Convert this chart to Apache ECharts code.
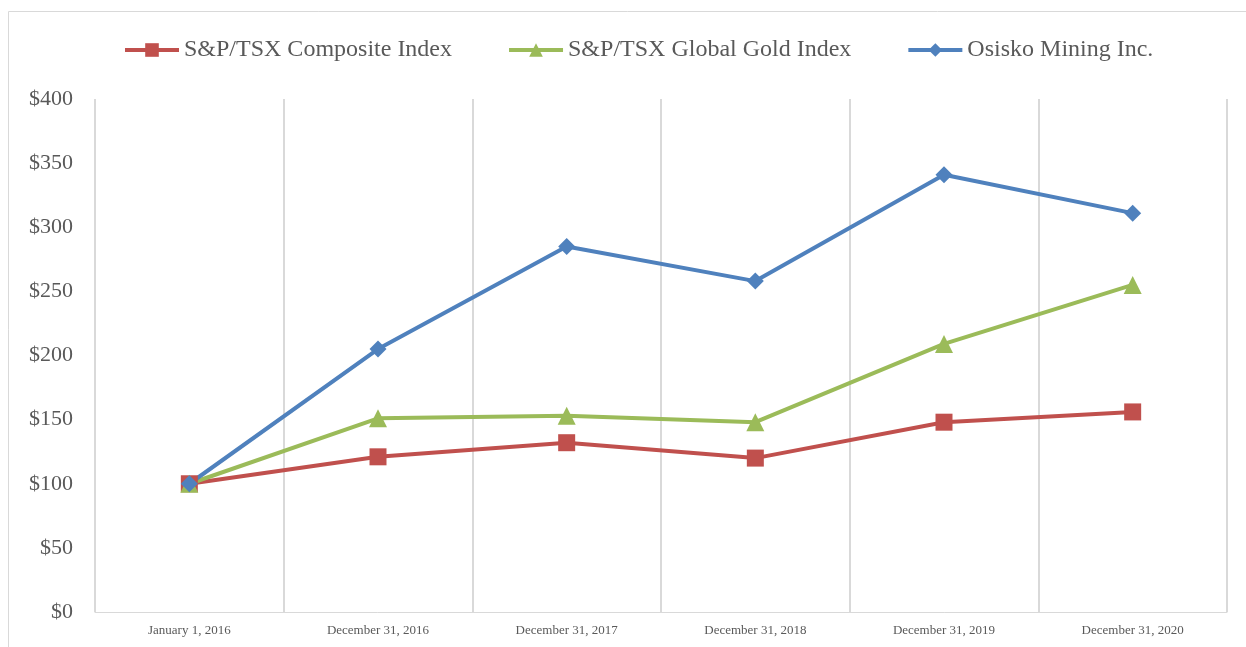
<!DOCTYPE html>
<html>
<head>
<meta charset="utf-8">
<title>Cumulative return</title>
<script src="https://cdn.jsdelivr.net/npm/echarts@6/dist/echarts.min.js"></script>
<style>
  html, body { margin: 0; padding: 0; background: #fff; }
  #chart { width: 1246px; height: 647px; }
</style>
</head>
<body>
<div id="chart"></div>
<script>
// data
const categories = ['January 1, 2016', 'December 31, 2016', 'December 31, 2017',
  'December 31, 2018', 'December 31, 2019', 'December 31, 2020'];
const compositeIndex = [100, 121, 132, 120, 148, 156];
const goldIndex = [100, 151, 153, 148, 209, 255];
const osiskoMining = [100, 205, 285, 258, 341, 311];
const yTicks = [0, 50, 100, 150, 200, 250, 300, 350, 400];

const serif = '"Liberation Serif", "Times New Roman", serif';

let myChart = echarts.init(document.getElementById('chart'));

myChart.setOption({
  animation: false,
  graphic: [
    {
      // outer chart border
      type: 'rect',
      shape: { x: 8.5, y: 11.5, width: 1400, height: 800 },
      style: { fill: 'none', stroke: '#d9d9d9', lineWidth: 1 },
      silent: true
    }
  ],
  legend: {
    top: 33,
    left: 118,
    itemWidth: 54,
    itemHeight: 17,
    itemGap: 55,
    lineStyle: { width: 4 },
    textStyle: { fontFamily: serif, fontSize: 24, color: '#595959' },
    data: ['S&P/TSX Composite Index', 'S&P/TSX Global Gold Index', 'Osisko Mining Inc.']
  },
  grid: { left: 95, right: 19, top: 99, bottom: 35, containLabel: false },
  xAxis: {
    type: 'category',
    data: categories,
    boundaryGap: true,
    axisLine: { lineStyle: { color: '#d9d9d9', width: 1 } },
    axisTick: { show: false },
    splitLine: { show: true, lineStyle: { color: '#d9d9d9', width: 2 } },
    axisLabel: {
      interval: 0,
      margin: 12,
      fontFamily: serif,
      fontSize: 13,
      color: '#595959'
    }
  },
  yAxis: {
    type: 'value',
    min: yTicks[0],
    max: yTicks[yTicks.length - 1],
    interval: 50,
    axisLine: { show: false },
    axisTick: { show: false },
    splitLine: { show: false },
    axisLabel: {
      margin: 22,
      fontFamily: serif,
      fontSize: 22,
      color: '#595959',
      formatter: v => '$' + v
    }
  },
  series: [
    {
      name: 'S&P/TSX Composite Index',
      type: 'line',
      data: compositeIndex,
      symbol: 'rect',
      symbolSize: 17,
      color: '#c0504d',
      lineStyle: { width: 4 },
      itemStyle: { color: '#c0504d' }
    },
    {
      name: 'S&P/TSX Global Gold Index',
      type: 'line',
      data: goldIndex,
      symbol: 'triangle',
      symbolSize: 18,
      color: '#9bbb59',
      lineStyle: { width: 4 },
      itemStyle: { color: '#9bbb59' }
    },
    {
      name: 'Osisko Mining Inc.',
      type: 'line',
      data: osiskoMining,
      symbol: 'diamond',
      symbolSize: 17,
      color: '#4f81bd',
      lineStyle: { width: 4 },
      itemStyle: { color: '#4f81bd' }
    }
  ]
});
</script>
</body>
</html>
